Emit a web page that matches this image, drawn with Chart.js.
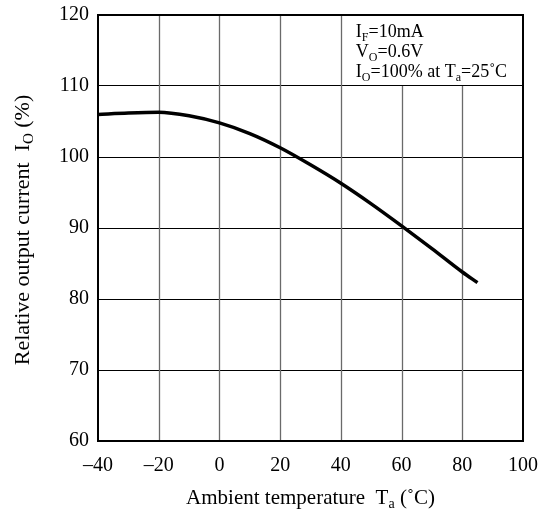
<!DOCTYPE html>
<html><head><meta charset="utf-8">
<script src="https://cdn.jsdelivr.net/npm/chart.js@4"></script>
<style>html,body{margin:0;padding:0;background:#fff}#wrap{width:540px;height:512px}</style>
</head><body><div id="wrap"><canvas id="c" width="540" height="512"></canvas></div>
<script>
const temps = [-40,-30,-20,-10,0,10,20,30,40,50,60,70,80,85];
const current = [106.0,106.2,106.3,105.8,104.8,103.3,101.3,98.9,96.3,93.4,90.3,87.1,83.8,82.3];
const xTicks = [-40,-20,0,20,40,60,80,100];
const yTicks = [60,70,80,90,100,110,120];
const FONT = '"Liberation Serif", "Times New Roman", serif';

function drawRich(ctx, parts, x, y, size, align) {
  const big = size + 'px ' + FONT, small = Math.round(size*0.68) + 'px ' + FONT;
  let w = 0;
  for (const [t, s] of parts) { ctx.font = s ? small : big; w += ctx.measureText(t).width; }
  let cx = align === 'center' ? x - w/2 : x;
  ctx.textAlign = 'left'; ctx.textBaseline = 'alphabetic';
  for (const [t, s] of parts) {
    ctx.font = s ? small : big;
    ctx.fillText(t, cx, s ? y + size*0.2 : y);
    cx += ctx.measureText(t).width;
  }
}

const overlay = {
  id: 'overlay',
  beforeDatasetsDraw(chart) {
    const {ctx, scales: {x, y}} = chart;
    const top = y.getPixelForValue(120), boxBottom = y.getPixelForValue(110), bottom = y.getPixelForValue(60);
    ctx.save();
    ctx.strokeStyle = '#6a6a6a'; ctx.lineWidth = 1.3;
    for (const tk of x.ticks) {
      const v = tk.value;
      if (v === -40 || v === 100) continue;
      const px = Math.round(x.getPixelForValue(v)) + 0.5;
      const y0 = (v > 40) ? boxBottom : top;
      ctx.beginPath(); ctx.moveTo(px, bottom); ctx.lineTo(px, y0); ctx.stroke();
    }
    ctx.restore();
  },
  afterDraw(chart) {
    const {ctx, chartArea: a, scales: {x}} = chart;
    ctx.save();
    ctx.strokeStyle = '#000'; ctx.lineWidth = 2;
    ctx.strokeRect(a.left, a.top, a.right - a.left, a.bottom - a.top);
    ctx.fillStyle = '#000';
    const tx = x.getPixelForValue(40) + 15;
    drawRich(ctx, [['I',0],['F',1],['=10mA',0]], tx, 37, 18, 'left');
    drawRich(ctx, [['V',0],['O',1],['=0.6V',0]], tx, 57, 18, 'left');
    drawRich(ctx, [['I',0],['O',1],['=100% at T',0],['a',1],['=25˚C',0]], tx, 77, 18, 'left');
    drawRich(ctx, [['Ambient temperature  T',0],['a',1],[' (˚C)',0]], (a.left + a.right)/2, 504, 21, 'center');
    ctx.translate(29, 230);
    ctx.rotate(-Math.PI/2);
    drawRich(ctx, [['Relative output current  I',0],['O',1],[' (%)',0]], 0, 0, 22, 'center');
    ctx.restore();
  }
};

new Chart(document.getElementById('c'), {
  type: 'line',
  data: {
    datasets: [{
      data: temps.map((t, i) => ({x: t, y: current[i]})),
      borderColor: '#000', borderWidth: 3.5, pointRadius: 0,
      cubicInterpolationMode: 'monotone', fill: false
    }]
  },
  options: {
    responsive: false, animation: false,
    layout: {padding: {top: 15, right: 17, left: 0, bottom: 0}},
    plugins: {legend: {display: false}, tooltip: {enabled: false}},
    scales: {
      x: {
        type: 'linear', min: -40, max: 100,
        afterBuildTicks: s => { s.ticks = xTicks.map(v => ({value: v})); },
        afterFit: s => { s.height = 71; s.paddingLeft = 0; s.paddingRight = 0; },
        ticks: {color: '#000', font: {family: FONT, size: 20}, padding: 5,
          callback: v => String(v).replace('-', '–')},
        grid: {display: false},
        border: {display: true, color: '#000', width: 2}
      },
      y: {
        min: 60, max: 120,
        afterBuildTicks: s => { s.ticks = yTicks.map(v => ({value: v})); },
        afterFit: s => { s.width = 98; s.paddingTop = 0; s.paddingBottom = 0; },
        ticks: {color: '#000', font: {family: FONT, size: 20}, padding: 9},
        grid: {color: '#000', lineWidth: 1, drawTicks: false},
        border: {display: true, color: '#000', width: 2}
      }
    }
  },
  plugins: [overlay]
});
</script></body></html>
